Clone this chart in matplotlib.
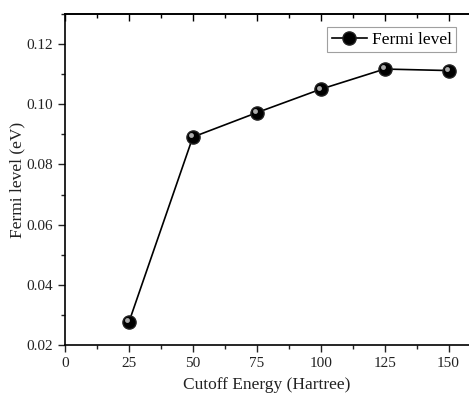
import matplotlib
matplotlib.use("Agg")
import matplotlib.pyplot as plt
import matplotlib.transforms as mtransforms
from matplotlib.ticker import MultipleLocator

# data
cutoff = [25, 50, 75, 100, 125, 150]
fermi = [0.0276, 0.0891, 0.0972, 0.1050, 0.1117, 0.1112]

plt.rcParams['font.family'] = ['Liberation Serif', 'DejaVu Serif']

fig = plt.figure(figsize=(4.69, 3.96), dpi=100)
ax = fig.add_axes([0.1386, 0.1288, 0.8614, 0.8359])

ax.plot(cutoff, fermi, color='black', lw=1.2, marker='o', ms=9.5,
        mfc='black', mec='#222222', label='Fermi level', zorder=3)
# highlight on the spheres
hl = mtransforms.offset_copy(ax.transData, fig=fig, x=-1.2, y=1.2, units='points')
ax.plot(cutoff, fermi, ls='none', marker='o', ms=3.5, mfc='#aaaaaa', mec='none',
        transform=hl, zorder=4)

ax.set_xlim(0, 158)
ax.set_ylim(0.02, 0.13)
ax.xaxis.set_major_locator(MultipleLocator(25))
ax.xaxis.set_minor_locator(MultipleLocator(12.5))
ax.yaxis.set_major_locator(MultipleLocator(0.02))
ax.yaxis.set_minor_locator(MultipleLocator(0.01))
ax.yaxis.set_major_formatter(plt.FuncFormatter(lambda v, p: "%.2f" % v))

ax.spines['right'].set_visible(False)
for s in ['left', 'bottom', 'top']:
    ax.spines[s].set_linewidth(1.2)
ax.tick_params(which='both', direction='out', labelsize=11, width=1.0, colors='#222222')
ax.tick_params(which='major', length=5)
ax.tick_params(which='minor', length=3)

# mirrored ticks on the top spine point inward
top = ax.secondary_xaxis('top')
top.xaxis.set_major_locator(MultipleLocator(25))
top.xaxis.set_minor_locator(MultipleLocator(12.5))
top.tick_params(which='both', direction='in', labeltop=False, width=1.0)
top.tick_params(which='major', length=5)
top.tick_params(which='minor', length=3)
top.spines['top'].set_linewidth(1.2)

ax.set_xlabel('Cutoff Energy (Hartree)', fontsize=12.5, labelpad=5, color='#222222')
ax.set_ylabel('Fermi level (eV)', fontsize=12.5, labelpad=1, color='#222222')

leg = ax.legend(loc='upper right', bbox_to_anchor=(0.968, 0.96), fontsize=12.5,
                frameon=True, fancybox=False, edgecolor='#888888',
                handlelength=2.0, borderpad=0.25, handletextpad=0.3,
                borderaxespad=0)
leg.get_frame().set_linewidth(0.8)

fig.savefig('out.png', dpi=100)
